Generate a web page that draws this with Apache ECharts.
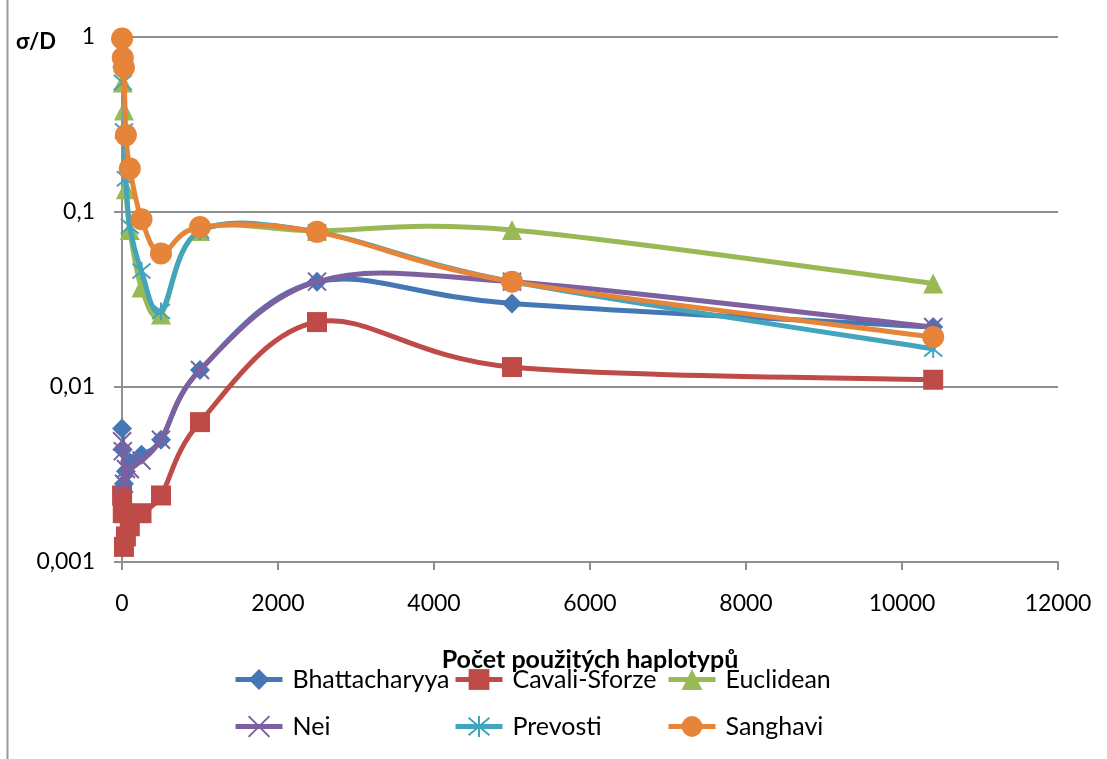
<!DOCTYPE html>
<html>
<head>
<meta charset="utf-8">
<script src="https://cdn.jsdelivr.net/npm/echarts@6/dist/echarts.min.js"></script>
<style>
html,body{margin:0;padding:0;background:#fff;}
#chart{width:1107px;height:759px;}
</style>
</head>
<body>
<div id="chart"></div>
<script>
// ---- data ----
const xValues = [1, 10, 25, 50, 100, 250, 500, 1000, 2500, 5000, 10400];
const seriesNames = ['Bhattacharyya', 'Cavali-Sforze', 'Euclidean', 'Nei', 'Prevosti', 'Sanghavi'];
const bhattacharyya = [0.0058, 0.0044, 0.0028, 0.0033, 0.0037, 0.0041, 0.0050, 0.0125, 0.040, 0.030, 0.022];
const cavaliSforze  = [0.0024, 0.0019, 0.00122, 0.0014, 0.0016, 0.0019, 0.0024, 0.0063, 0.0235, 0.013, 0.011];
const euclidean     = [0.76, 0.55, 0.38, 0.135, 0.079, 0.037, 0.026, 0.078, 0.078, 0.079, 0.039];
const nei           = [0.0049, 0.0043, 0.0028, 0.0034, 0.0034, 0.0038, 0.0050, 0.0125, 0.040, 0.040, 0.022];
const prevosti      = [0.88, 0.55, 0.29, 0.155, 0.083, 0.046, 0.027, 0.078, 0.077, 0.040, 0.0165];
const sanghavi      = [0.98, 0.76, 0.67, 0.275, 0.177, 0.091, 0.058, 0.082, 0.077, 0.040, 0.0193];
const xTickInterval = 2000;
const xMax = 12000;
const yTickLabels = {'-3': '0,001', '-2': '0,01', '-1': '0,1', '0': '1'};
const xAxisTitle = 'Počet použitých haplotypů';
const yAxisTitle = 'σ/D';

// ---- styles ----
const FONT = 'Lato';
const gray = '#8f8f8f';
const colors = ['#4677B5', '#BE4B48', '#98B954', '#7D60A0', '#43A4BE', '#E6843A'];
const symbols = ['diamond', 'rect', 'triangle',
  'path://M0 0L10 10M10 0L0 10',
  'path://M0 0L10 10M10 0L0 10M5 -1L5 11',
  'circle'];
const symbolSizes = [20, 20, 20, 18, 18, 22];
const valueSets = [bhattacharyya, cavaliSforze, euclidean, nei, prevosti, sanghavi];
const LINE_W = 5;

// Smoothed line (Excel-like Catmull-Rom bezier in pixel space) via custom series
function smoothRenderer(color, dataArr) {
  return function (params, api) {
    if (params.dataIndex !== 0) return null;
    const p = dataArr.map(d => api.coord(d));
    const n = p.length;
    const children = [];
    for (let i = 0; i < n - 1; i++) {
      const p0 = p[Math.max(i - 1, 0)], p1 = p[i], p2 = p[i + 1], p3 = p[Math.min(i + 2, n - 1)];
      children.push({
        type: 'bezierCurve',
        shape: {
          x1: p1[0], y1: p1[1], x2: p2[0], y2: p2[1],
          cpx1: p1[0] + (p2[0] - p0[0]) / 6, cpy1: p1[1] + (p2[1] - p0[1]) / 6,
          cpx2: p2[0] - (p3[0] - p1[0]) / 6, cpy2: p2[1] - (p3[1] - p1[1]) / 6
        },
        style: {stroke: color, lineWidth: LINE_W, fill: null, lineCap: 'round', lineJoin: 'round'}
      });
    }
    return {type: 'group', children: children};
  };
}

const series = [];
seriesNames.forEach((name, i) => {
  const data = xValues.map((x, j) => [x, valueSets[i][j]]);
  series.push({
    type: 'custom',
    name: name + ' (curve)',
    data: data,
    encode: {x: 0, y: 1},
    renderItem: smoothRenderer(colors[i], data),
    silent: true,
    clip: true,
    z: 2 + 2 * i
  });
  const stroked = i === 3 || i === 4;
  series.push({
    name: name,
    type: 'line',
    symbol: symbols[i],
    symbolSize: symbolSizes[i],
    data: data,
    lineStyle: {color: colors[i], width: LINE_W, opacity: 0},
    itemStyle: stroked
      ? {color: colors[i], borderColor: colors[i], borderWidth: 2}
      : {color: colors[i], borderWidth: 0},
    emphasis: {disabled: true},
    z: 3 + 2 * i
  });
});

const legendPos = [
  {left: 233, top: 667}, {left: 453, top: 667}, {left: 666, top: 667},
  {left: 233, top: 714}, {left: 453, top: 714}, {left: 666, top: 714}
];
const legends = seriesNames.map((name, i) => ({
  data: [name],
  left: legendPos[i].left,
  top: legendPos[i].top,
  padding: 0,
  itemWidth: 47,
  itemHeight: 26,
  itemGap: 0,
  selectedMode: false,
  lineStyle: {color: colors[i], width: LINE_W, opacity: 1},
  textStyle: {fontFamily: FONT, fontSize: 25, color: '#000', padding: [0, 0, 0, 5]}
}));

const chart = echarts.init(document.getElementById('chart'), null, {renderer: 'canvas'});
chart.setOption({
  animation: false,
  backgroundColor: '#fff',
  title: {
    text: yAxisTitle,
    left: 16, top: 31, padding: 0,
    textStyle: {fontFamily: FONT, fontSize: 22, fontWeight: 'bold', color: '#000'}
  },
  grid: {left: 122, right: 49, top: 37, bottom: 197, containLabel: false},
  legend: legends,
  xAxis: {
    type: 'value',
    min: 0, max: xMax, interval: xTickInterval,
    name: xAxisTitle,
    nameLocation: 'middle',
    nameGap: 85,
    nameTextStyle: {fontFamily: FONT, fontSize: 25, fontWeight: 'bold', color: '#000'},
    axisLine: {show: true, lineStyle: {color: gray, width: 2}},
    axisTick: {show: true, length: 8, lineStyle: {color: gray, width: 2}},
    axisLabel: {fontFamily: FONT, fontSize: 23, color: '#000', margin: 30,
      formatter: v => String(v)},
    splitLine: {show: false}
  },
  yAxis: {
    type: 'log',
    logBase: 10,
    min: 0.001, max: 1,
    axisLine: {show: true, lineStyle: {color: gray, width: 2}},
    axisTick: {show: true, length: 8, lineStyle: {color: gray, width: 2}},
    minorTick: {show: false},
    axisLabel: {
      fontFamily: FONT, fontSize: 23, color: '#000', margin: 27,
      formatter: v => yTickLabels[String(Math.round(Math.log10(v)))] || ''
    },
    splitLine: {show: true, lineStyle: {color: gray, width: 2}}
  },
  graphic: [{
    type: 'line',
    shape: {x1: 7.5, y1: 0, x2: 7.5, y2: 759},
    style: {stroke: '#9a9a9a', lineWidth: 2}
  }],
  series: series
});
</script>
</body>
</html>
